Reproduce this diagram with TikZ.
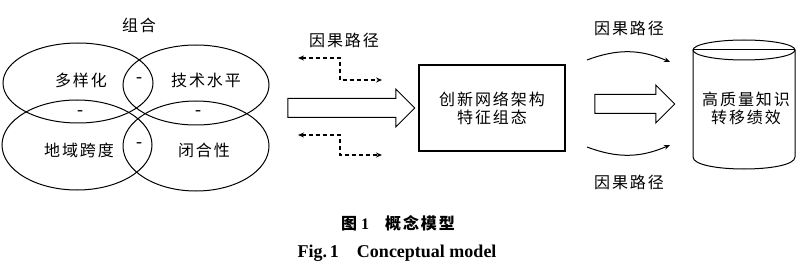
\documentclass[tikz,border=0pt]{standalone}
\usepackage{fontspec}
\setmainfont{Liberation Serif}
\newfontfamily\cjk{Noto Sans CJK SC}[LetterSpace=12]
\usetikzlibrary{shapes.geometric,shapes.arrows,arrows.meta}
\begin{document}
\begin{tikzpicture}[x=1pt,y=-1pt,
  lbl/.style={font=\cjk\fontsize{16}{18}\selectfont, inner sep=0pt, align=center},
  ell/.style={draw, ellipse, line width=1pt, inner sep=0pt},
  minus/.style={font=\fontsize{18}{18}\selectfont, inner sep=0pt},
  bigarrow/.style={draw, single arrow, line width=1pt, inner sep=9pt,
    single arrow head extend=9.5pt, single arrow tip angle=90, shape border rotate=0},
  dsh/.style={line width=1.1pt, dash pattern=on 4pt off 3pt, {Stealth[length=6pt,width=5pt]}-{Stealth[length=6pt,width=5pt]}},
  curv/.style={line width=1pt, -{Stealth[length=6pt,width=5pt]}}]
\useasboundingbox (0,0) rectangle (800,267);
\fill[white] (0,0) rectangle (800,267);
% four ellipses
\node[ell, minimum width=150, minimum height=80] (e1) at (78,83) {};
\node[ell, minimum width=146, minimum height=80] (e2) at (196,85) {};
\node[ell, minimum width=150, minimum height=90] (e3) at (77,145) {};
\node[ell, minimum width=146, minimum height=90] (e4) at (196,146) {};
\node[lbl] (zuhe) at (139,25) {组合};
\node[lbl] (t1) at (81,80) {多样化};
\node[lbl] (t2) at (206,80) {技术水平};
\node[lbl] (t3) at (79,150) {地域跨度};
\node[lbl] (t4) at (204,150) {闭合性};
\node[minus] (m1) at (139,80) {-};
\node[minus] (m2) at (80,113) {-};
\node[minus] (m3) at (198,113) {-};
\node[minus] (m4) at (139,145) {-};
% dashed causal paths
\node[lbl] (cp1) at (344,40) {因果路径};
\coordinate (d1a) at (298,58);
\coordinate (d1b) at (340,58);
\coordinate (d1c) at (340,80);
\coordinate (d1d) at (382,80);
\draw[dsh] (d1a) -- (d1b) -- (d1c) -- (d1d);
\coordinate (d2a) at (298,135);
\coordinate (d2b) at (340,135);
\coordinate (d2c) at (340,155);
\coordinate (d2d) at (382,155);
\draw[dsh] (d2a) -- (d2b) -- (d2c) -- (d2d);
% big arrow 1
\node[bigarrow, minimum height=127] (a1) at (346.5,108) {};
% box
\node[draw, line width=1.3pt, minimum width=146, minimum height=86, lbl] (box) at (492,108) {创新网络架构\\特征组态};
% big arrow 2
\node[bigarrow, minimum height=80] (a2) at (630,104) {};
% curved causal paths
\node[lbl] (cp2) at (629,28) {因果路径};
\node[lbl] (cp3) at (629,182) {因果路径};
\coordinate (c1a) at (587,60);
\coordinate (c1b) at (670,62);
\draw[curv] (c1a) to[bend left=22] (c1b);
\coordinate (c2a) at (587,147);
\coordinate (c2b) at (670,145);
\draw[curv] (c2a) to[bend right=22] (c2b);
% cylinder
\draw[line width=1pt] (744,50) ellipse [x radius=51, y radius=10];
\coordinate (cyltl) at (693,50);
\coordinate (cyltr) at (795,50);
\draw[line width=1pt] (cyltl) -- (cyltr);
\draw[line width=1pt] (cyltl) -- (693,157) .. controls (693,173) and (795,173) .. (795,157) -- (cyltr);
\node[lbl] (cyl) at (746,108) {高质量知识\\转移绩效};
% caption
\node[inner sep=0pt, font=\fontsize{16}{18}\selectfont\bfseries] (cap1) at (398,223) {{\cjk 图} 1\quad{\cjk 概念模型}};
\node[inner sep=0pt, font=\fontsize{18}{20}\selectfont\bfseries] (cap2) at (397,253) {Fig.\,1\quad Conceptual model};
\end{tikzpicture}
\end{document}
